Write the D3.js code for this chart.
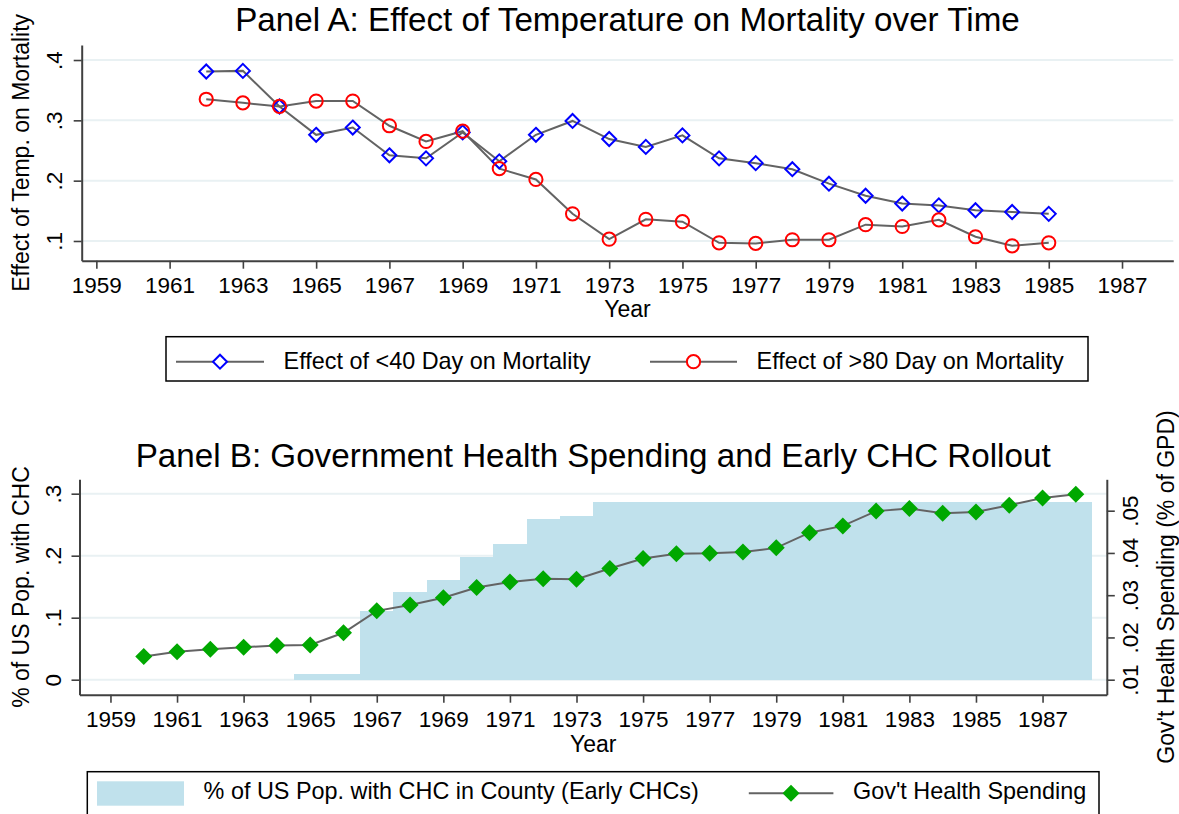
<!DOCTYPE html>
<html>
<head>
<meta charset="utf-8">
<script src="https://cdn.jsdelivr.net/npm/d3@7"></script>
<style>
    body { margin: 0; background: #fff; }
    svg { display: block; font-family: Arial, "Liberation Sans", sans-serif; }
</style>
</head>
<body>
<svg id="chart" width="1179" height="814"></svg>
<script>
// ---- data ----
const yearsA = [1962, 1963, 1964, 1965, 1966, 1967, 1968, 1969, 1970, 1971, 1972, 1973,
    1974, 1975, 1976, 1977, 1978, 1979, 1980, 1981, 1982, 1983, 1984, 1985];
const effectLt40 = [0.381, 0.382, 0.323, 0.276, 0.288, 0.242, 0.237, 0.280, 0.232, 0.276, 0.299, 0.269,
    0.256, 0.275, 0.237, 0.229, 0.219, 0.195, 0.175, 0.162, 0.159, 0.151, 0.148, 0.145];
const effectGt80 = [0.335, 0.329, 0.323, 0.332, 0.332, 0.291, 0.265, 0.282, 0.220, 0.202, 0.145, 0.103,
    0.136, 0.132, 0.097, 0.096, 0.102, 0.102, 0.127, 0.124, 0.135, 0.107, 0.092, 0.097];

const yearsB = [1960, 1961, 1962, 1963, 1964, 1965, 1966, 1967, 1968, 1969, 1970, 1971, 1972, 1973, 1974,
    1975, 1976, 1977, 1978, 1979, 1980, 1981, 1982, 1983, 1984, 1985, 1986, 1987, 1988];
const healthSpending = [0.0155, 0.0166, 0.0172, 0.0177, 0.0181, 0.0182, 0.0211, 0.0263, 0.0277, 0.0294,
    0.0318, 0.0331, 0.0339, 0.0338, 0.0363, 0.0387, 0.0398, 0.0399, 0.0402, 0.0412, 0.0448, 0.0464,
    0.0499, 0.0505, 0.0494, 0.0497, 0.0513, 0.0530, 0.0539];

const chcYears = [1965, 1966, 1967, 1968, 1969, 1970, 1971, 1972, 1973, 1974, 1975, 1976,
    1977, 1978, 1979, 1980, 1981, 1982, 1983, 1984, 1985, 1986, 1987, 1988];
const chcShare = [0.009, 0.009, 0.111, 0.141, 0.161, 0.198, 0.219, 0.259, 0.264, 0.286, 0.286, 0.286,
    0.286, 0.286, 0.286, 0.286, 0.286, 0.286, 0.286, 0.286, 0.286, 0.286, 0.286, 0.286];

const yearTicks = [1959, 1961, 1963, 1965, 1967, 1969, 1971, 1973, 1975, 1977, 1979, 1981, 1983, 1985, 1987];
const effectTicks = [0.1, 0.2, 0.3, 0.4];
const shareTicks = [0, 0.1, 0.2, 0.3];
const spendTicks = [0.01, 0.02, 0.03, 0.04, 0.05];

const titleA = "Panel A: Effect of Temperature on Mortality over Time";
const titleB = "Panel B: Government Health Spending and Early CHC Rollout";
const legendA = ["Effect of <40 Day on Mortality", "Effect of >80 Day on Mortality"];
const legendB = ["% of US Pop. with CHC in County (Early CHCs)", "Gov't Health Spending"];

// ---- look ----
const colors = {
    axis: "#404040",
    grid: "#e9f1f3",
    line: "#636363",
    lt40: "#0000ff",
    gt80: "#ff0000",
    chc: "#c0e1ec",
    spend: "#00a800"
};
const fs = { tick: 22.5, axis: 23, title: 33.2, legend: 23.4 };

const svg = d3.select("#chart");
const stataNum = v => v === 0 ? "0" : String(+v.toFixed(3)).replace(/^0\./, ".");
const diamond = (h) => `M0,${-h}L${h},0L0,${h}L${-h},0Z`;

const styleAxis = (g) => {
    g.select(".domain").attr("stroke", colors.axis).attr("stroke-width", 2);
    g.selectAll(".tick line").attr("stroke", colors.axis).attr("stroke-width", 1.6);
    g.selectAll(".tick text").attr("fill", "#000").style("font-size", fs.tick + "px");
};

const vertTicks = (g, shift) => {
    g.selectAll(".tick text")
        .attr("x", 0).attr("dy", 0)
        .attr("text-anchor", "middle")
        .attr("transform", `translate(${shift},0) rotate(-90)`);
};

const gridlines = (scale, ticks, x1, x2) => {
    svg.append("g").selectAll("line").data(ticks).join("line")
        .attr("x1", x1).attr("x2", x2)
        .attr("y1", d => scale(d)).attr("y2", d => scale(d))
        .attr("stroke", colors.grid).attr("stroke-width", 2);
};

// ======== Panel A ========
const plotA = { left: 81.7, right: 1173.3, top: 45, bottom: 260.7 };
const xA = d3.scaleLinear([1958.6, 1988.4], [plotA.left, plotA.right]);
const yA = d3.scaleLinear([0.0673, 0.4249], [plotA.bottom, plotA.top]);

gridlines(yA, effectTicks, plotA.left, plotA.right);

svg.append("g").attr("transform", `translate(0,${plotA.bottom})`)
    .call(d3.axisBottom(xA).tickValues(yearTicks).tickFormat(d3.format("d"))
        .tickSize(8).tickSizeOuter(0).tickPadding(8))
    .call(styleAxis);

svg.append("g").attr("transform", `translate(${plotA.left},0)`)
    .call(d3.axisLeft(yA).tickValues(effectTicks).tickFormat(stataNum)
        .tickSize(8).tickSizeOuter(0))
    .call(styleAxis)
    .call(g => vertTicks(g, -20));

const lineA = d3.line().x(d => xA(d[0])).y(d => yA(d[1]));
const seriesA = [
    { vals: effectLt40, color: colors.lt40, shape: "diamond" },
    { vals: effectGt80, color: colors.gt80, shape: "circle" }
];

seriesA.forEach(s => {
    const pts = yearsA.map((y, i) => [y, s.vals[i]]);
    svg.append("path").datum(pts)
        .attr("d", lineA).attr("fill", "none")
        .attr("stroke", colors.line).attr("stroke-width", 2);
});

seriesA.forEach(s => {
    const pts = yearsA.map((y, i) => [y, s.vals[i]]);
    const g = svg.append("g");
    if (s.shape === "diamond") {
        g.selectAll("path").data(pts).join("path")
            .attr("d", diamond(7))
            .attr("transform", d => `translate(${xA(d[0])},${yA(d[1])})`)
            .attr("fill", "none").attr("stroke", s.color).attr("stroke-width", 2);
    } else {
        g.selectAll("circle").data(pts).join("circle")
            .attr("cx", d => xA(d[0])).attr("cy", d => yA(d[1])).attr("r", 6.6)
            .attr("fill", "none").attr("stroke", s.color).attr("stroke-width", 2);
    }
});

svg.append("text").attr("x", (plotA.left + plotA.right) / 2).attr("y", 30.7)
    .attr("text-anchor", "middle").style("font-size", fs.title + "px").text(titleA);
svg.append("text").attr("x", (plotA.left + plotA.right) / 2).attr("y", 317.3)
    .attr("text-anchor", "middle").style("font-size", fs.axis + "px").text("Year");
svg.append("text").attr("transform", `translate(29,${(plotA.top + plotA.bottom) / 2}) rotate(-90)`)
    .attr("text-anchor", "middle").style("font-size", fs.axis + "px").text("Effect of Temp. on Mortality");

// legend A
const legA = svg.append("g");
legA.append("rect").attr("x", 166).attr("y", 336.7).attr("width", 922).attr("height", 44.3)
    .attr("fill", "#fff").attr("stroke", "#000").attr("stroke-width", 1.5);
const legAItems = [{ x0: 176, x1: 264, tx: 283.6 }, { x0: 650, x1: 737, tx: 756.6 }];
legAItems.forEach((it, i) => {
    const cy = 361.7, cx = (it.x0 + it.x1) / 2;
    legA.append("line").attr("x1", it.x0).attr("x2", it.x1).attr("y1", cy).attr("y2", cy)
        .attr("stroke", colors.line).attr("stroke-width", 2);
    if (seriesA[i].shape === "diamond") {
        legA.append("path").attr("d", diamond(7)).attr("transform", `translate(${cx},${cy})`)
            .attr("fill", "#fff").attr("stroke", seriesA[i].color).attr("stroke-width", 2);
    } else {
        legA.append("circle").attr("cx", cx).attr("cy", cy).attr("r", 6.6)
            .attr("fill", "#fff").attr("stroke", seriesA[i].color).attr("stroke-width", 2);
    }
    legA.append("text").attr("x", it.tx).attr("y", 368.5)
        .style("font-size", fs.legend + "px").text(legendA[i]);
});

// ======== Panel B ========
const plotB = { left: 79.5, right: 1106.8, top: 479.3, bottom: 694.7 };
const xB = d3.scaleLinear([1958.07, 1988.93], [plotB.left, plotB.right]);
const yL = d3.scaleLinear([-0.0242, 0.3232], [plotB.bottom, plotB.top]);
const yR = d3.scaleLinear([0.00645, 0.05743], [plotB.bottom, plotB.top]);

gridlines(yL, shareTicks, plotB.left, plotB.right);

svg.append("g").selectAll("rect").data(chcYears.map((y, i) => [y, chcShare[i]])).join("rect")
    .attr("x", d => xB(d[0] - 0.5))
    .attr("width", d => xB(d[0] + 0.5) - xB(d[0] - 0.5))
    .attr("y", d => yL(d[1]))
    .attr("height", d => yL(0) - yL(d[1]))
    .attr("fill", colors.chc)
    .attr("shape-rendering", "crispEdges");

svg.append("g").attr("transform", `translate(0,${plotB.bottom})`)
    .call(d3.axisBottom(xB).tickValues(yearTicks).tickFormat(d3.format("d"))
        .tickSize(8).tickSizeOuter(0).tickPadding(8))
    .call(styleAxis);

svg.append("g").attr("transform", `translate(${plotB.left},0)`)
    .call(d3.axisLeft(yL).tickValues(shareTicks).tickFormat(stataNum)
        .tickSize(8).tickSizeOuter(0))
    .call(styleAxis)
    .call(g => vertTicks(g, -18.5));

svg.append("g").attr("transform", `translate(${plotB.right},0)`)
    .call(d3.axisRight(yR).tickValues(spendTicks).tickFormat(stataNum)
        .tickSize(8).tickSizeOuter(0))
    .call(styleAxis)
    .call(g => vertTicks(g, 31));

const spendPts = yearsB.map((y, i) => [y, healthSpending[i]]);
svg.append("path").datum(spendPts)
    .attr("d", d3.line().x(d => xB(d[0])).y(d => yR(d[1])))
    .attr("fill", "none").attr("stroke", colors.line).attr("stroke-width", 2);
svg.append("g").selectAll("path").data(spendPts).join("path")
    .attr("d", diamond(8.5))
    .attr("transform", d => `translate(${xB(d[0])},${yR(d[1])})`)
    .attr("fill", colors.spend);

svg.append("text").attr("x", (plotB.left + plotB.right) / 2).attr("y", 467)
    .attr("text-anchor", "middle").style("font-size", fs.title + "px").text(titleB);
svg.append("text").attr("x", (plotB.left + plotB.right) / 2).attr("y", 752)
    .attr("text-anchor", "middle").style("font-size", fs.axis + "px").text("Year");
svg.append("text").attr("transform", `translate(29,${(plotB.top + plotB.bottom) / 2}) rotate(-90)`)
    .attr("text-anchor", "middle").style("font-size", fs.axis + "px").text("% of US Pop. with CHC");
svg.append("text").attr("transform", `translate(1174,${(plotB.top + plotB.bottom) / 2}) rotate(-90)`)
    .attr("text-anchor", "middle").style("font-size", fs.axis + "px").text("Gov't Health Spending (% of GPD)");

// legend B
const legB = svg.append("g");
legB.append("rect").attr("x", 87.3).attr("y", 771.7).attr("width", 1011.7).attr("height", 46)
    .attr("fill", "#fff").attr("stroke", "#000").attr("stroke-width", 1.5);
legB.append("rect").attr("x", 97).attr("y", 781.3).attr("width", 87).attr("height", 24.4)
    .attr("fill", colors.chc);
legB.append("text").attr("x", 203.6).attr("y", 799.3)
    .style("font-size", fs.legend + "px").text(legendB[0]);
legB.append("line").attr("x1", 748.8).attr("x2", 833.4).attr("y1", 793.3).attr("y2", 793.3)
    .attr("stroke", colors.line).attr("stroke-width", 2);
legB.append("path").attr("d", diamond(8.5)).attr("transform", "translate(791,793.3)")
    .attr("fill", colors.spend);
legB.append("text").attr("x", 853).attr("y", 799.3)
    .style("font-size", fs.legend + "px").text(legendB[1]);
</script>
</body>
</html>
